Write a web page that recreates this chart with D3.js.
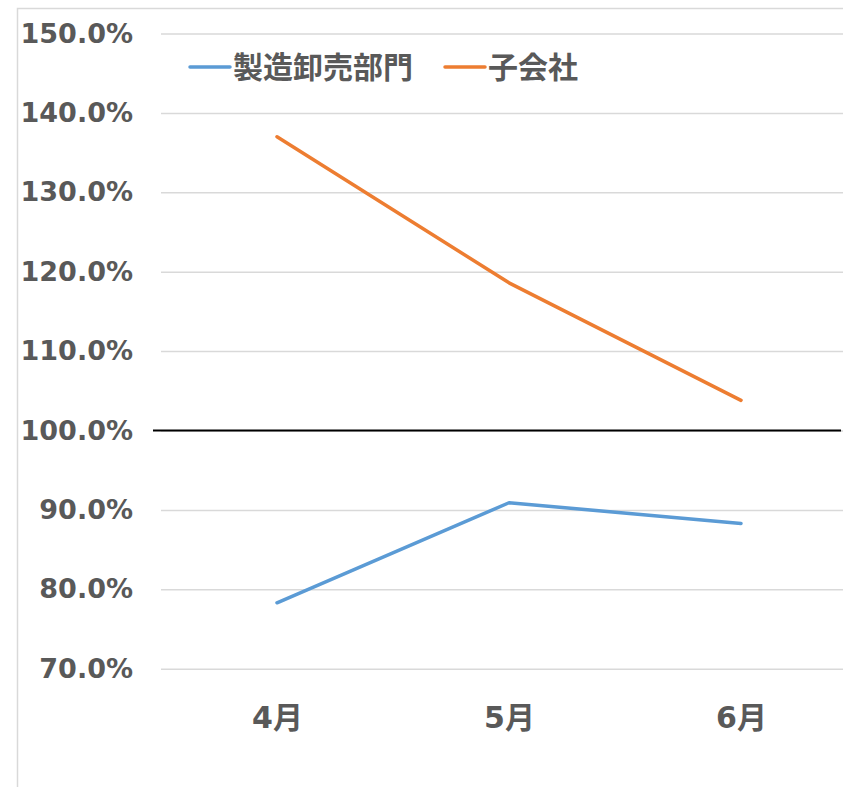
<!DOCTYPE html>
<html>
<head>
<meta charset="utf-8">
<script src="https://cdn.jsdelivr.net/npm/d3@7"></script>
<style>
  html, body { margin: 0; padding: 0; background: #fff; overflow: hidden; }
  svg { display: block; }
  text { font-family: "DejaVu Sans", "Noto Sans CJK JP", sans-serif; font-weight: bold; fill: #595959; }
</style>
</head>
<body>
<div id="chart"></div>
<script>
// 月別の比率データ
const months = ['4月', '5月', '6月'];
const seriesNames = ['製造卸売部門', '子会社'];
const seizouValues = [0.783, 0.909, 0.883];
const kogaishaValues = [1.370, 1.186, 1.038];
const yTicks = [0.7, 0.8, 0.9, 1.0, 1.1, 1.2, 1.3, 1.4, 1.5];
const colors = ['#5B9BD5', '#ED7D31'];

const W = 843, H = 787;
const plot = { left: 161, right: 857, top: 33.5, bottom: 668.7 };

const svg = d3.select('#chart').append('svg')
    .attr('width', W)
    .attr('height', H);

// 枠線
svg.append('path')
    .attr('d', `M17.5,${H} V8.5 H${W}`)
    .attr('fill', 'none')
    .attr('stroke', '#d9d9d9')
    .attr('stroke-width', 1.5);

const x = d3.scalePoint()
    .domain(months)
    .range([plot.left, plot.right])
    .padding(0.5);

const y = d3.scaleLinear()
    .domain([0.7, 1.5])
    .range([plot.bottom, plot.top]);

// 目盛線と縦軸ラベル
const yAxis = svg.append('g')
    .attr('transform', `translate(${plot.left},0)`)
    .call(d3.axisLeft(y)
        .tickValues(yTicks)
        .tickSize(-(plot.right - plot.left))
        .tickPadding(28)
        .tickFormat(d3.format('.1%')));
yAxis.select('.domain').remove();
yAxis.selectAll('.tick line')
    .attr('stroke', '#d9d9d9')
    .attr('stroke-width', 1.5);
yAxis.selectAll('.tick text')
    .style('font-size', '27px')
    .attr('fill', '#595959');

// 100% 基準線
svg.append('line')
    .attr('x1', 153)
    .attr('x2', 841)
    .attr('y1', y(1.0))
    .attr('y2', y(1.0))
    .attr('stroke', '#000')
    .attr('stroke-width', 2);

// 横軸ラベル
const xAxis = svg.append('g')
    .attr('transform', `translate(0,${plot.bottom})`)
    .call(d3.axisBottom(x).tickSize(0).tickPadding(38));
xAxis.select('.domain').remove();
xAxis.selectAll('.tick text')
    .style('font-size', '30px')
    .attr('fill', '#595959');

// 折れ線
const line = d3.line()
    .x((d, i) => x(months[i]))
    .y(d => y(d));

[seizouValues, kogaishaValues].forEach((vals, i) => {
    svg.append('path')
        .datum(vals)
        .attr('d', line)
        .attr('fill', 'none')
        .attr('stroke', colors[i])
        .attr('stroke-width', 3.5)
        .attr('stroke-linecap', 'round')
        .attr('stroke-linejoin', 'round');
});

// 凡例
const legendX = [190, 445];
seriesNames.forEach((name, i) => {
    const g = svg.append('g').attr('transform', `translate(${legendX[i]},67)`);
    g.append('line')
        .attr('x1', 0).attr('x2', 40)
        .attr('stroke', colors[i])
        .attr('stroke-width', 3.5)
        .attr('stroke-linecap', 'round');
    g.append('text')
        .attr('x', 43)
        .attr('dy', '0.36em')
        .style('font-size', '30px')
        .style('font-family', '"Noto Sans CJK JP", sans-serif')
        .text(name);
});
</script>
</body>
</html>
